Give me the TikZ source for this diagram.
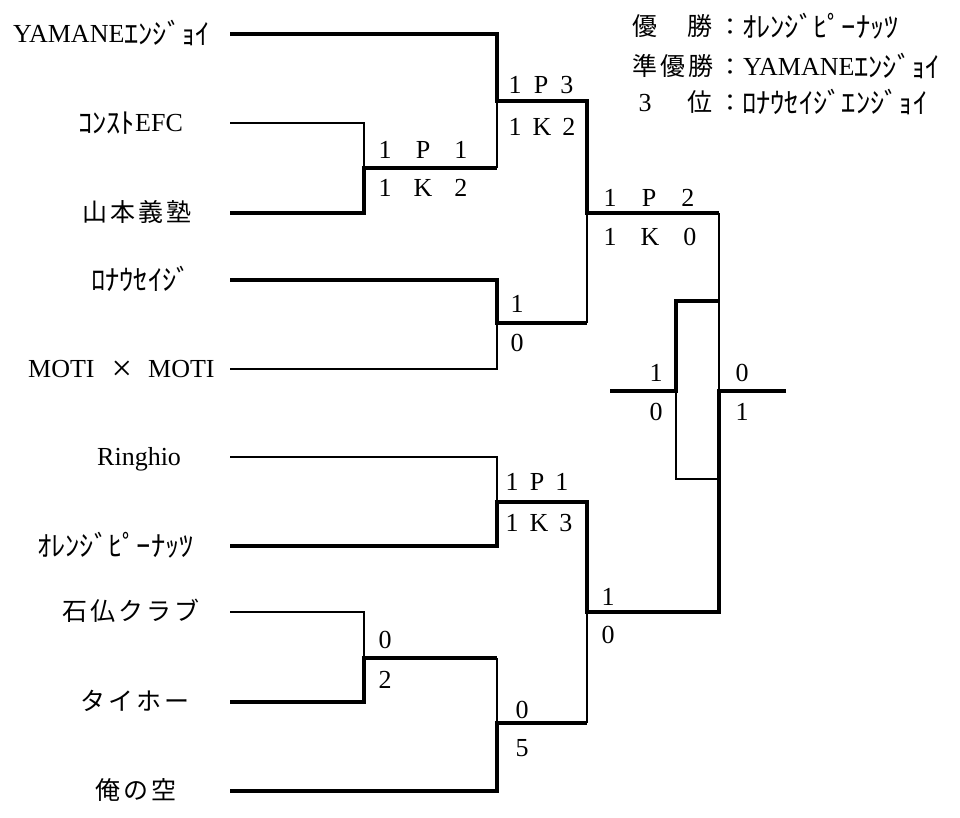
\documentclass[tikz,border=0pt]{standalone}
\usepackage{graphicx}
\usepackage{fontspec}
\setmainfont{Liberation Serif}
\newfontfamily\kjf[LetterSpace=12]{Noto Sans CJK JP}
\newfontfamily\jpf{Noto Sans CJK JP}
\newcommand\latsz{\fontsize{26}{26}\selectfont}
\newcommand\hks[1]{{\fontsize{28.5}{28.5}\selectfont\jpf\raisebox{-1.5pt}{#1}}}
\newcommand\kjs[1]{{\fontsize{25}{25}\selectfont\kjf #1}}
\newcommand\trio[4]{\makebox[#1][c]{#2}\makebox[#1][c]{#3}\makebox[#1][c]{#4}}
\begin{document}
\begin{tikzpicture}[x=1pt,y=-1pt,
  win/.style={line width=3.3pt, line join=miter},
  lose/.style={line width=1.1pt},
  nm/.style={anchor=west, inner sep=0pt, text height=17pt, text depth=0pt, font=\latsz},
  lb/.style={inner sep=0pt, text height=17pt, text depth=0pt, font=\fontsize{26}{26}\selectfont}]
\useasboundingbox (0,0) rectangle (960,817);
\fill[white] (0,0) rectangle (960,817);

% ---- team names
\node[nm] (n1) at (13,34) {YAMANE\hks{ｴﾝｼﾞｮｲ}};
\node[nm] (n2) at (78,123) {\hks{ｺﾝｽﾄ}EFC};
\node[nm] (n3) at (82,213) {\kjs{山本義塾}};
\node[nm] (n4) at (91,280) {\hks{ﾛﾅｳｾｲｼﾞ}};
\node[nm] (n5) at (28,369) {MOTI\hspace{17pt}\raisebox{-3pt}{\scalebox{1.4}{×}}\hspace{16pt}MOTI};
\node[nm] (n6) at (97,457) {Ringhio};
\node[nm] (n7) at (37,546) {\hks{ｵﾚﾝｼﾞﾋﾟｰﾅｯﾂ}};
\node[nm] (n8) at (62,612) {\kjs{石仏クラブ}};
\node[nm] (n9) at (80,702) {\kjs{タイホー}};
\node[nm] (n10) at (95,791) {\kjs{俺の空}};

% ---- legend
\node[nm] (g1a) at (632,27) {\kjs{優}};
\node[nm] (g1b) at (687,27) {\kjs{勝}};
\node[lb, font=\fontsize{24}{24}\selectfont\jpf] (g1c) at (730,27) {：};
\node[nm] (g1d) at (742,27) {\hks{ｵﾚﾝｼﾞﾋﾟｰﾅｯﾂ}};
\node[nm] (g2a) at (632,67) {\kjs{準優勝}};
\node[lb, font=\fontsize{24}{24}\selectfont\jpf] (g2c) at (730,67) {：};
\node[nm] (g2d) at (743,67) {YAMANE\hks{ｴﾝｼﾞｮｲ}};
\node[lb] (g3a) at (645,103) {3};
\node[nm] (g3b) at (687,103) {\kjs{位}};
\node[lb, font=\fontsize{24}{24}\selectfont\jpf] (g3c) at (730,103) {：};
\node[nm] (g3d) at (742,103) {\hks{ﾛﾅｳｾｲｼﾞｴﾝｼﾞｮｲ}};

% ---- coordinates
\coordinate (s1) at (230,34);  \coordinate (e1) at (497,34);
\coordinate (s2) at (230,123); \coordinate (e2) at (364,123);
\coordinate (s3) at (230,213); \coordinate (e3) at (364,213);
\coordinate (s4) at (230,280); \coordinate (e4) at (497,280);
\coordinate (s5) at (230,369); \coordinate (e5) at (497,369);
\coordinate (s6) at (230,457); \coordinate (e6) at (497,457);
\coordinate (s7) at (230,546); \coordinate (e7) at (497,546);
\coordinate (s8) at (230,612); \coordinate (e8) at (364,612);
\coordinate (s9) at (230,702); \coordinate (e9) at (364,702);
\coordinate (s10) at (230,791); \coordinate (e10) at (497,791);
\coordinate (m23) at (364,168); \coordinate (m23e) at (497,168);
\coordinate (m1) at (497,101);  \coordinate (m1e) at (587,101);
\coordinate (m45) at (497,323); \coordinate (m45e) at (587,323);
\coordinate (sf1) at (587,213); \coordinate (sf1e) at (719,213);
\coordinate (m67) at (497,502); \coordinate (m67e) at (587,502);
\coordinate (m89) at (364,658); \coordinate (m89e) at (497,658);
\coordinate (m10) at (497,723); \coordinate (m10e) at (587,723);
\coordinate (sf2) at (587,612); \coordinate (sf2e) at (719,612);
\coordinate (fin) at (719,391); \coordinate (finE) at (786,391);
\coordinate (tpA) at (610,391); \coordinate (tp) at (676,391);
\coordinate (tpT) at (676,301); \coordinate (tpTe) at (719,301);
\coordinate (tpB) at (676,479); \coordinate (tpBe) at (719,479);

% ---- bracket lines
\draw[win] (s1) -- (e1) -- (m1) -- (m1e) -- (sf1) -- (sf1e);
\draw[lose] (s2) -- (e2) -- (m23);
\draw[win] (s3) -- (e3) -- (m23) -- (m23e);
\draw[lose] (m23e) -- (m1);
\draw[win] (s4) -- (e4) -- (m45) -- (m45e);
\draw[lose] (m45e) -- (sf1);
\draw[lose] (s5) -- (e5) -- (m45);
\draw[lose] (sf1e) -- (fin);
\draw[win] (finE) -- (fin) -- (sf2e) -- (sf2) -- (m67e) -- (m67) -- (e7) -- (s7);
\draw[lose] (s6) -- (e6) -- (m67);
\draw[lose] (sf2) -- (m10e);
\draw[win] (s10) -- (e10) -- (m10) -- (m10e);
\draw[lose] (m10) -- (m89e);
\draw[win] (s9) -- (e9) -- (m89) -- (m89e);
\draw[lose] (s8) -- (e8) -- (m89);
\draw[win] (tpA) -- (tp) -- (tpT) -- (tpTe);
\draw[lose] (tp) -- (tpB) -- (tpBe);

% ---- scores
\node[lb] (a1) at (423,150) {\trio{38pt}{1}{P}{1}};
\node[lb] (a2) at (423,188) {\trio{38pt}{1}{K}{2}};
\node[lb] (b1) at (541,85) {\trio{26pt}{1}{P}{3}};
\node[lb] (b2) at (542,127) {\trio{27pt}{1}{K}{2}};
\node[lb] (c1) at (649,198) {\trio{39pt}{1}{P}{2}};
\node[lb] (c2) at (650,237) {\trio{40pt}{1}{K}{0}};
\node[lb] (d1) at (537,482) {\trio{25pt}{1}{P}{1}};
\node[lb] (d2) at (539,523) {\trio{27pt}{1}{K}{3}};
\node[lb] (x1) at (517,304) {1};
\node[lb] (x2) at (517,343) {0};
\node[lb] (x3) at (385,640) {0};
\node[lb] (x4) at (385,680) {2};
\node[lb] (x5) at (608,597) {1};
\node[lb] (x6) at (608,635) {0};
\node[lb] (x7) at (522,710) {0};
\node[lb] (x8) at (522,748) {5};
\node[lb] (x9) at (656,373) {1};
\node[lb] (x10) at (656,412) {0};
\node[lb] (x11) at (742,373) {0};
\node[lb] (x12) at (742,412) {1};
\end{tikzpicture}
\end{document}
